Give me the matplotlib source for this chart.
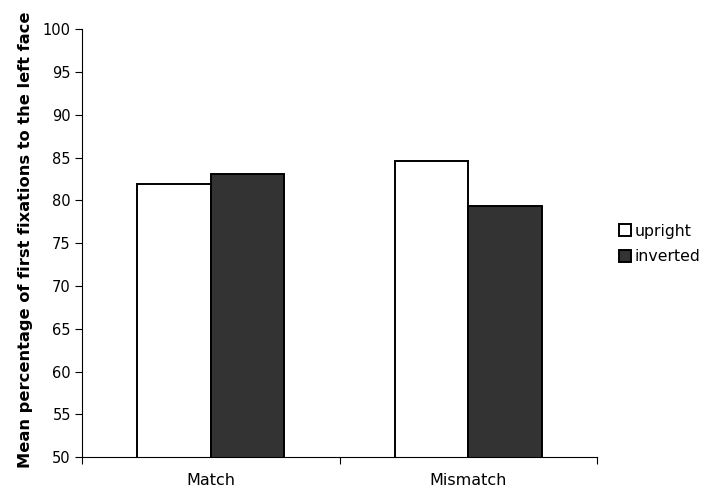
import matplotlib
matplotlib.use("Agg")
import matplotlib.pyplot as plt
import numpy as np

# data
categories = ["Match", "Mismatch"]
upright = [81.9, 84.65]
inverted = [83.06, 79.4]
series_names = ["upright", "inverted"]
y_ticks = [50, 55, 60, 65, 70, 75, 80, 85, 90, 95, 100]

plt.rcParams['font.family'] = ['DejaVu Sans']

fig = plt.figure(figsize=(7.06, 4.94), dpi=100)
ax = fig.add_axes([0.1161, 0.0743, 0.846 - 0.1161, 0.9407 - 0.0743])

x = np.arange(len(categories))
w = 1 / 3.5
ax.bar(x - w / 2, upright, w, color="white", edgecolor="black",
       linewidth=1.4, label=series_names[0])
ax.bar(x + w / 2, inverted, w, color="#333333", edgecolor="black",
       linewidth=1.4, label=series_names[1])

ax.set_ylim(50, 100)
ax.set_xlim(-0.5, len(categories) - 0.5)
ax.set_yticks(y_ticks)
ax.tick_params(axis="y", labelsize=10.5, length=5, width=0.8, pad=3)

# excel style: ticks between categories, labels centred
ax.set_xticks(np.arange(len(categories) + 1) - 0.5)
ax.set_xticklabels([])
ax.set_xticks(x, minor=True)
ax.set_xticklabels(categories, minor=True)
ax.tick_params(axis="x", which="major", length=5, width=0.8)
ax.tick_params(axis="x", which="minor", length=0, labelsize=11.5, pad=11)

for s in ["top", "right"]:
    ax.spines[s].set_visible(False)
ax.spines["left"].set_linewidth(0.8)
ax.spines["bottom"].set_linewidth(0.8)

ax.set_ylabel("Mean percentage of first fixations to the left face",
              fontsize=11.7, fontweight="bold", va="center")
ax.yaxis.set_label_coords(25.5 / 706, 1 - 240 / 494, transform=fig.transFigure)

fig.legend(*ax.get_legend_handles_labels(), loc="center left",
           bbox_to_anchor=(619 / 706, 1 - 244 / 494), frameon=False,
           borderpad=0, borderaxespad=0,
           fontsize=11.3, handlelength=0.75, handleheight=0.75, handletextpad=0.25,
           labelspacing=0.68)

fig.savefig("out.png", dpi=100)
